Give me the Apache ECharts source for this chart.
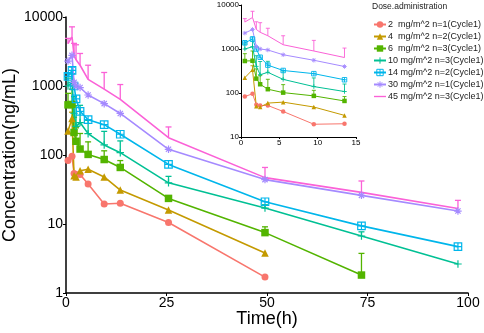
<!DOCTYPE html>
<html>
<head>
<meta charset="utf-8">
<script src="https://cdn.jsdelivr.net/npm/echarts@6/dist/echarts.min.js"></script>
<style>
  html, body { margin: 0; padding: 0; background: #fff; }
  #chart { width: 484px; height: 333px; }
</style>
</head>
<body>
<div id="chart"></div>
<script>
// sampling times (h)
var times = [0.5, 1.5, 2, 2.5, 3.5, 5.5, 9.5, 13.5, 25.5, 49.5, 73.5, 97.5];

var doseNames = [
  '2  mg/m^2 n=1(Cycle1)',
  '4  mg/m^2 n=2(Cycle1)',
  '6  mg/m^2 n=3(Cycle1)',
  '10 mg/m^2 n=3(Cycle1)',
  '14 mg/m^2 n=2(Cycle1)',
  '30 mg/m^2 n=1(Cycle1)',
  '45 mg/m^2 n=3(Cycle1)'
];

// mean concentration (ng/mL), null = not sampled
var dose2 = [83, 96, 54, 52, 52, 38, 19.5, 20, 10.5, 1.7, null, null];
var dose4 = [223, 337, 50, 48, 59, 62, 48, 31, 16, 3.8, null, null];
var dose6 = [533, 540, 212, 158, 122, 102, 86, 66, 23.5, 7.5, 1.82, null];
var dose10 = [1000, 1125, 403, 260, 295, 204, 140, 108, 39.5, 17, 6.7, 2.63];
var dose14 = [1380, 1680, 1000, 650, 430, 325, 275, 200, 73, 21, 9.4, 4.7];
var dose30 = [2300, 2780, 1130, 1000, 950, 740, 555, 400, 121, 44, 26, 15.4];
var dose45 = [4100, 5200, 2780, 2400, 2000, 1250, 900, 640, 178, 47, 28.7, 16.8];

// upper error (SD), 0 = no bar
var sd2 = [0, 0, 0, 0, 0, 0, 0, 0, 0, 0, 0, 0];
var sd4 = [0, 80, 0, 0, 0, 0, 0, 0, 0, 0, 0, 0];
var sd6 = [250, 360, 140, 90, 83, 53, 29, 17, 0, 1.6, 1.93, 0];
var sd10 = [300, 380, 300, 260, 230, 114, 80, 52, 9.5, 2, 1, 0];
var sd14 = [150, 200, 0, 0, 0, 0, 0, 0, 0, 0, 0, 0];
var sd30 = [0, 0, 0, 0, 0, 0, 0, 0, 0, 0, 0, 0];
var sd45 = [800, 2000, 1370, 1560, 960, 750, 670, 410, 77, 19, 13.3, 5.2];

var colors = ['#F8766D', '#C49A00', '#53B400', '#00C094', '#00B6EB', '#A58AFF', '#FB61D7'];
var means = [dose2, dose4, dose6, dose10, dose14, dose30, dose45];
var sds = [sd2, sd4, sd6, sd10, sd14, sd30, sd45];

// ggplot-like shapes
var plusPath = 'path://M0,5L10,5M5,0L5,10';
var sqPlusPath = 'path://M0,0L10,0L10,10L0,10ZM0,5L10,5M5,0L5,10';
var starPath = 'path://M0,5L10,5M5,0L5,10M1.5,1.5L8.5,8.5M8.5,1.5L1.5,8.5';
var shapes = ['circle', 'triangle', 'rect', plusPath, sqPlusPath, starPath, 'none'];
var hollow = [false, false, false, true, true, true, false];

var font = 'Liberation Sans, Arial, sans-serif';

function pts(arr, maxT) {
  var out = [];
  for (var i = 0; i < times.length; i++) {
    if (arr[i] != null && times[i] <= maxT) out.push([times[i], arr[i]]);
  }
  return out;
}
function bars(arr, sd, maxT) {
  var out = [];
  for (var i = 0; i < times.length; i++) {
    if (arr[i] != null && sd[i] > 0 && times[i] <= maxT) out.push([times[i], arr[i], sd[i]]);
  }
  return out;
}

function errSeries(k, grid, capW, lw) {
  return {
    type: 'custom',
    xAxisIndex: grid, yAxisIndex: grid,
    silent: true,
    z: 1,
    data: bars(means[k], sds[k], grid === 0 ? 200 : 15),
    encode: { x: 0, y: 1 },
    renderItem: function (params, api) {
      var x = api.value(0), m = api.value(1), s = api.value(2);
      var p0 = api.coord([x, m]);
      var p1 = api.coord([x, m + s]);
      var st = { stroke: colors[k], lineWidth: lw };
      return {
        type: 'group',
        children: [
          { type: 'line', shape: { x1: p0[0], y1: p0[1], x2: p1[0], y2: p1[1] }, style: st },
          { type: 'line', shape: { x1: p1[0] - capW, y1: p1[1], x2: p1[0] + capW, y2: p1[1] }, style: st }
        ]
      };
    }
  };
}

function lineSeries(k, grid) {
  var main = grid === 0;
  return {
    name: doseNames[k],
    type: 'line',
    xAxisIndex: grid, yAxisIndex: grid,
    data: pts(means[k], main ? 200 : 15),
    symbol: shapes[k],
    symbolSize: main ? (k === 0 ? 7 : 7.5) : 4.5,
    showSymbol: shapes[k] !== 'none',
    z: 2,
    lineStyle: { color: colors[k], width: main ? 1.6 : 1 },
    itemStyle: hollow[k]
      ? { color: 'rgba(0,0,0,0)', borderColor: colors[k], borderWidth: main ? 1.2 : 0.9 }
      : { color: colors[k], borderWidth: 0 },
    emphasis: { disabled: true },
    animation: false
  };
}

var series = [];
for (var k = 0; k < 7; k++) {
  series.push(lineSeries(k, 0));
  series.push(errSeries(k, 0, 3, 1.3));
  series.push(lineSeries(k, 1));
  series.push(errSeries(k, 1, 2, 0.9));
}

var legendData = doseNames.map(function (n, i) {
  if (shapes[i] === 'none') {
    return { name: n, icon: 'path://M0,0L14,0L14,1.6L0,1.6Z', itemStyle: { color: colors[i] } };
  }
  if (hollow[i]) {
    return { name: n, itemStyle: { color: 'rgba(0,0,0,0)', borderColor: colors[i], borderWidth: 1 } };
  }
  return { name: n };
});

function plainLabel(v) { return String(Math.round(v)); }

var axisLine = { lineStyle: { color: '#000', width: 1.5 } };

var option = {
  animation: false,
  backgroundColor: '#fff',
  textStyle: { fontFamily: font },
  legend: {
    data: legendData,
    orient: 'vertical',
    left: 368,
    top: 15,
    itemWidth: 12,
    itemHeight: 8,
    itemGap: 3,
    textStyle: { fontSize: 9, color: '#222', fontFamily: font, padding: [0, 0, 0, -3] },
    selectedMode: false
  },
  graphic: [{
    type: 'text', left: 372, top: 2,
    style: { text: 'Dose.administration', fontSize: 8.5, fill: '#222', fontFamily: font }
  }],
  grid: [
    { left: 66, top: 17, right: 16, bottom: 40, outerBoundsMode: 'none', containLabel: false },
    { left: 241, top: 5, right: 128, bottom: 196, outerBoundsMode: 'none', containLabel: false }
  ],
  xAxis: [{
    gridIndex: 0, type: 'value', min: 0, max: 100, interval: 25,
    name: 'Time(h)', nameLocation: 'middle', nameGap: 17, nameMoveOverlap: false,
    nameTextStyle: { fontSize: 18, color: '#000', fontFamily: font },
    axisLine: axisLine,
    axisTick: { show: true, length: 3, lineStyle: { color: '#000' } },
    axisLabel: { fontSize: 14, color: '#000', margin: 3 },
    splitLine: { show: false }
  }, {
    gridIndex: 1, type: 'value', min: 0, max: 15, interval: 5,
    axisLine: { lineStyle: { color: '#000', width: 1 } },
    axisTick: { show: true, length: 2, lineStyle: { color: '#000' } },
    axisLabel: { fontSize: 8, color: '#000', margin: 2 },
    splitLine: { show: false }
  }],
  yAxis: [{
    gridIndex: 0, type: 'log', logBase: 10, min: 1, max: 10000,
    name: 'Concentration(ng/mL)', nameLocation: 'middle', nameGap: 47, nameMoveOverlap: false,
    nameTextStyle: { fontSize: 18, color: '#000', fontFamily: font },
    axisLine: axisLine,
    axisTick: { show: true, length: 3, lineStyle: { color: '#000' } },
    minorTick: { show: false },
    axisLabel: { fontSize: 14, color: '#000', margin: 3, formatter: plainLabel },
    splitLine: { show: false }
  }, {
    gridIndex: 1, type: 'log', logBase: 10, min: 10, max: 10000,
    axisLine: { lineStyle: { color: '#000', width: 1 } },
    axisTick: { show: true, length: 2, lineStyle: { color: '#000' } },
    axisLabel: { fontSize: 8, color: '#000', margin: 2, formatter: plainLabel },
    splitLine: { show: false }
  }],
  series: series
};

var chart = echarts.init(document.getElementById('chart'), null, { renderer: 'canvas' });
chart.setOption(option);
</script>
</body>
</html>
